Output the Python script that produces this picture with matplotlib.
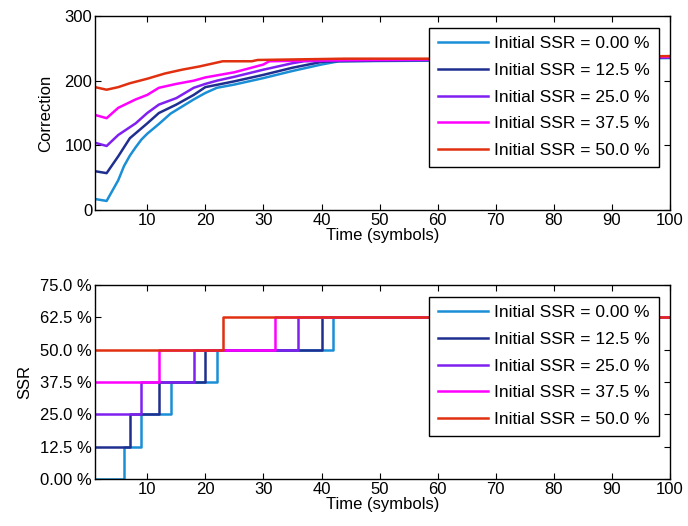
import matplotlib
matplotlib.use("Agg")
import matplotlib.pyplot as plt

plt.rcParams["font.family"] = ["Liberation Sans", "DejaVu Sans"]

labels = ["Initial SSR = 0.00 %", "Initial SSR = 12.5 %", "Initial SSR = 25.0 %",
          "Initial SSR = 37.5 %", "Initial SSR = 50.0 %"]
colors = ["#1a8fd6", "#1f2f8f", "#8020f0", "#ff00ff", "#e03010"]

# correction curves (time, value)
corr_x = [
    [1, 3, 5, 6, 7, 8, 9, 10, 12, 14, 16, 18, 20, 22, 25, 30, 35, 40, 43, 60, 80, 100],
    [1, 3, 5, 7, 10, 12, 15, 18, 20, 25, 30, 35, 40, 42, 60, 80, 100],
    [1, 3, 5, 8, 10, 12, 15, 18, 20, 22, 25, 30, 35, 37, 44, 60, 80, 100],
    [1, 3, 5, 8, 10, 12, 15, 18, 20, 25, 30, 31, 44, 60, 80, 100],
    [1, 3, 5, 7, 10, 13, 16, 19, 21, 23, 28, 29, 44, 60, 80, 100],
]
corr_y = [
    [17, 14, 46, 68, 84, 97, 109, 118, 133, 149, 160, 171, 181, 189, 194, 204, 215, 225, 230, 231, 233, 235],
    [60, 57, 83, 111, 134, 150, 163, 178, 190, 199, 209, 220, 229, 230, 232, 234, 236],
    [104, 99, 116, 134, 150, 163, 173, 189, 195, 200, 206, 217, 227, 230, 231, 232, 234, 236],
    [147, 142, 158, 171, 178, 189, 195, 200, 205, 213, 225, 230, 232, 233, 235, 237],
    [190, 186, 190, 196, 203, 211, 217, 222, 226, 230, 230, 232, 234, 234, 236, 238],
]

# SSR step levels (%) and switch times
ssr_x = [
    [1, 6, 9, 14, 22, 42, 100],
    [1, 7, 12, 20, 40, 100],
    [1, 9, 18, 36, 100],
    [1, 12, 32, 100],
    [1, 23, 100],
]
ssr_y = [
    [0.0, 12.5, 25.0, 37.5, 50.0, 62.5, 62.5],
    [12.5, 25.0, 37.5, 50.0, 62.5, 62.5],
    [25.0, 37.5, 50.0, 62.5, 62.5],
    [37.5, 50.0, 62.5, 62.5],
    [50.0, 62.5, 62.5],
]

fig = plt.figure(figsize=(6.88, 5.26), dpi=100)
ax1 = fig.add_axes([95 / 688, 1 - 210 / 526, 575 / 688, 194 / 526])
ax2 = fig.add_axes([95 / 688, 1 - 479 / 526, 575 / 688, 194 / 526])

for i in range(5):
    ax1.plot(corr_x[i], corr_y[i], color=colors[i], lw=1.8, label=labels[i])
    ax2.plot(ssr_x[i], ssr_y[i], color=colors[i], lw=1.8, drawstyle="steps-post", label=labels[i])

ax1.set_ylim(0, 300)
ax1.set_yticks([0, 100, 200, 300])
ax1.set_ylabel("Correction", fontsize=12, labelpad=8)

ax2.set_ylim(0, 75)
ax2.set_yticks([0, 12.5, 25, 37.5, 50, 62.5, 75])
ax2.set_yticklabels(["0.00 %", "12.5 %", "25.0 %", "37.5 %", "50.0 %", "62.5 %", "75.0 %"])
ax2.set_ylabel("SSR", fontsize=12, labelpad=6)

for ax in (ax1, ax2):
    ax.set_xlim(1, 100)
    ax.set_xticks(range(10, 101, 10))
    ax.set_xlabel("Time (symbols)", fontsize=12, labelpad=0)
    ax.tick_params(direction="in", top=True, right=True, labelsize=12, length=4, width=0.8, pad=2)
    for s in ax.spines.values():
        s.set_linewidth(1.0)
    leg = ax.legend(loc="upper right", bbox_to_anchor=(0.98, 0.94), fontsize=12.5,
                    fancybox=False, framealpha=1, edgecolor="black",
                    handlelength=2.9, handletextpad=0.35, borderpad=0.5,
                    labelspacing=0.66, borderaxespad=0)
    leg.get_frame().set_linewidth(1.0)

fig.savefig("out.png", dpi=100)
